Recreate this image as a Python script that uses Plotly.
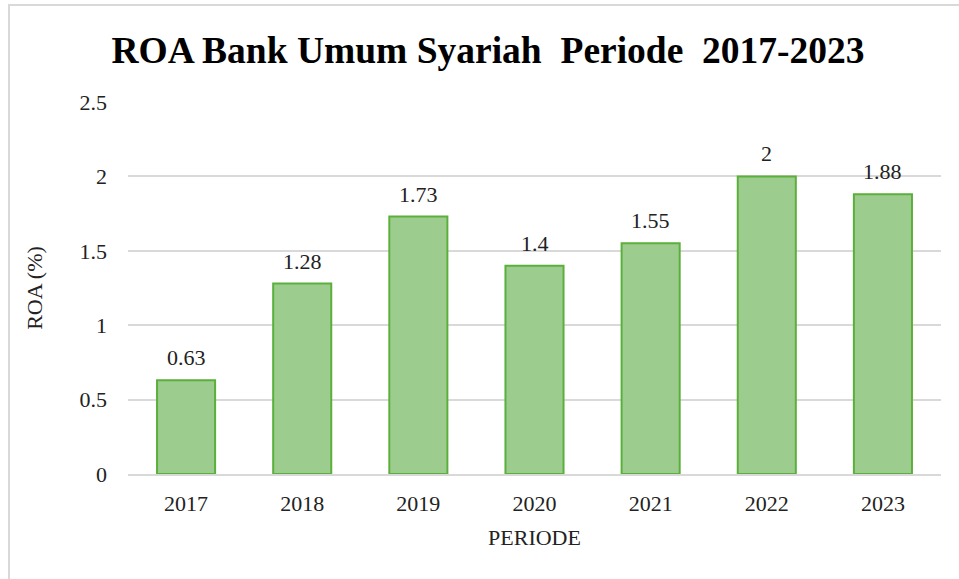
import plotly.graph_objects as go

years = ["2017", "2018", "2019", "2020", "2021", "2022", "2023"]
roa = [0.63, 1.28, 1.73, 1.4, 1.55, 2, 1.88]
roa_labels = ["0.63", "1.28", "1.73", "1.4", "1.55", "2", "1.88"]
y_ticks = [0, 0.5, 1, 1.5, 2, 2.5]
y_tick_text = ["0", "0.5", "1", "1.5", "2", "2.5"]

W, H = 959, 579
ml, mr, mt, mb = 128, 18, 102, 105
pw = W - ml - mr
ph = H - mt - mb

serif = "Liberation Serif, Times New Roman, serif"

fig = go.Figure(go.Bar(
    x=years, y=roa,
    marker=dict(color="#9CCD8E", line=dict(color="#5BAF3B", width=2)),
    cliponaxis=False,
))

# data labels above each bar (category index positions)
for i, (v, lab) in enumerate(zip(roa, roa_labels)):
    fig.add_annotation(x=i, y=v, text=lab, showarrow=False,
                       yanchor="bottom", yshift=8,
                       font=dict(family=serif, size=22, color="#222222"))

fig.update_layout(
    width=W, height=H,
    margin=dict(l=ml, r=mr, t=mt, b=mb),
    paper_bgcolor="white", plot_bgcolor="white",
    bargap=0.5,
    showlegend=False,
    font=dict(family=serif, size=22, color="#222222"),
    title=dict(text="<b>ROA Bank Umum Syariah  Periode  2017-2023</b>",
               x=488 / W, xanchor="center", y=1 - 50 / H, yanchor="middle",
               font=dict(family=serif, size=37.5, color="#000000")),
    xaxis=dict(type="category", categoryorder="array", categoryarray=years,
               range=[-0.5, len(years) - 0.5],
               title=dict(text="PERIODE", standoff=14, font=dict(size=22)),
               showgrid=False, showline=True, linecolor="#D9D9D9", linewidth=2,
               ticks="", ticklabelstandoff=9, tickfont=dict(size=22)),
    yaxis=dict(title=dict(text="ROA (%)", standoff=30, font=dict(size=22)),
               range=[0, 2.5], tickvals=y_ticks, ticktext=y_tick_text,
               showgrid=True, gridcolor="#D9D9D9", gridwidth=1.5,
               zeroline=False, showline=False, ticks="",
               ticklabelstandoff=20, tickfont=dict(size=22)),
)

# outer chart frame (light gray)
fig.add_shape(type="rect", xref="paper", yref="paper",
              x0=(9 - ml) / pw, x1=(W + 20 - ml) / pw,
              y0=(ph + mt - (H + 20)) / ph, y1=(ph + mt - 5) / ph,
              line=dict(color="#D9D9D9", width=2), fillcolor="rgba(0,0,0,0)",
              layer="below")

fig.write_html("out.html")
